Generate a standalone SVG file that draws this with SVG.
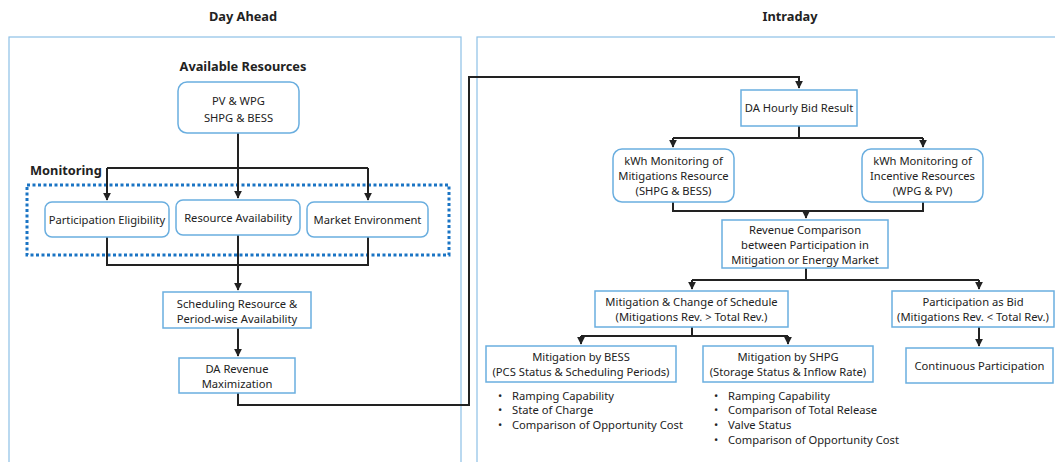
<svg xmlns="http://www.w3.org/2000/svg" width="1055" height="462" viewBox="0 0 1055 462">
<style>
text{font-family:"Noto Sans","Open Sans","DejaVu Sans",sans-serif;font-size:11.2px;fill:#222;text-anchor:middle}
.t{font-weight:bold;font-size:12.8px}
.b{text-anchor:start}
.panel{fill:none;stroke:#8dc0e6;stroke-width:1.2}
.box{fill:#fff;stroke:#6aaedf;stroke-width:1.5}
.c{fill:none;stroke:#222;stroke-width:2}
.dot{fill:none;stroke:#1a74c4;stroke-width:3;stroke-dasharray:3 2.5}
</style>
<defs>
<marker id="a" viewBox="0 0 10 10" refX="9" refY="5" markerWidth="4" markerHeight="4" orient="auto" markerUnits="strokeWidth">
<path d="M0,0L10,5L0,10z" fill="#222"/>
</marker>
</defs>
<rect width="1055" height="462" fill="#fff"/>
<g id="panels">
<rect class="panel" x="9" y="37" width="452" height="440"/>
<rect class="panel" x="477" y="37" width="590" height="440"/>
<text class="t" x="243" y="21">Day Ahead</text>
<text class="t" x="790" y="21">Intraday</text>
<text class="t" x="243" y="71">Available Resources</text>
<text class="t b" x="30" y="175">Monitoring</text>
<rect class="dot" x="27" y="185" width="422" height="70"/>
</g>
<g id="connectors">
<path class="c" d="M238,133V168"/>
<path class="c" d="M107,168H368"/>
<path class="c" d="M107,168V200" marker-end="url(#a)"/>
<path class="c" d="M238,168V198" marker-end="url(#a)"/>
<path class="c" d="M368,168V200" marker-end="url(#a)"/>
<path class="c" d="M107,237V265H368V237"/>
<path class="c" d="M238,235V290" marker-end="url(#a)"/>
<path class="c" d="M238,328V356" marker-end="url(#a)"/>
<path class="c" d="M238,393V405H469V77H799V88" marker-end="url(#a)"/>
<path class="c" d="M799,126V138"/>
<path class="c" d="M673,138H923"/>
<path class="c" d="M673,138V147" marker-end="url(#a)"/>
<path class="c" d="M923,138V147" marker-end="url(#a)"/>
<path class="c" d="M673,202V211H923V202"/>
<path class="c" d="M806,211V218" marker-end="url(#a)"/>
<path class="c" d="M806,268V280"/>
<path class="c" d="M692,280H979"/>
<path class="c" d="M692,280V289" marker-end="url(#a)"/>
<path class="c" d="M979,280V289" marker-end="url(#a)"/>
<path class="c" d="M692,327V336"/>
<path class="c" d="M581,336H788"/>
<path class="c" d="M581,336V344" marker-end="url(#a)"/>
<path class="c" d="M788,336V344" marker-end="url(#a)"/>
<path class="c" d="M979,327V346" marker-end="url(#a)"/>
</g>
<g id="n-resources">
<rect class="box" x="178" y="82" width="121" height="51" rx="9"/>
<text x="238.5" y="105">PV &amp; WPG</text>
<text x="238.5" y="122">SHPG &amp; BESS</text>
</g>
<g id="n-eligibility">
<rect class="box" x="45" y="202" width="124" height="35" rx="7"/>
<text x="107" y="224">Participation Eligibility</text>
</g>
<g id="n-availability">
<rect class="box" x="176" y="200" width="124" height="35" rx="7"/>
<text x="238" y="222">Resource Availability</text>
</g>
<g id="n-market">
<rect class="box" x="307" y="202" width="121" height="35" rx="7"/>
<text x="367.5" y="224">Market Environment</text>
</g>
<g id="n-scheduling">
<rect class="box" x="163" y="292" width="148" height="36"/>
<text x="237" y="308">Scheduling Resource &amp;</text>
<text x="237" y="323">Period-wise Availability</text>
</g>
<g id="n-darev">
<rect class="box" x="179" y="358" width="116" height="35"/>
<text x="237" y="373">DA Revenue</text>
<text x="237" y="388">Maximization</text>
</g>
<g id="n-dabid">
<rect class="box" x="741" y="90" width="116" height="36"/>
<text x="799" y="112">DA Hourly Bid Result</text>
</g>
<g id="n-kwh-mit">
<rect class="box" x="613" y="149" width="121" height="53" rx="9"/>
<text x="673.5" y="165">kWh Monitoring of</text>
<text x="673.5" y="180">Mitigations Resource</text>
<text x="673.5" y="195">(SHPG &amp; BESS)</text>
</g>
<g id="n-kwh-inc">
<rect class="box" x="862" y="149" width="121" height="53" rx="9"/>
<text x="922.5" y="165">kWh Monitoring of</text>
<text x="922.5" y="180">Incentive Resources</text>
<text x="922.5" y="195">(WPG &amp; PV)</text>
</g>
<g id="n-revcomp">
<rect class="box" x="722" y="220" width="166" height="48"/>
<text x="805" y="234">Revenue Comparison</text>
<text x="805" y="249">between Participation in</text>
<text x="805" y="264">Mitigation or Energy Market</text>
</g>
<g id="n-mitchange">
<rect class="box" x="595" y="291" width="193" height="36"/>
<text x="691.5" y="306">Mitigation &amp; Change of Schedule</text>
<text x="691.5" y="321">(Mitigations Rev. &gt; Total Rev.)</text>
</g>
<g id="n-bid">
<rect class="box" x="892" y="291" width="162" height="36"/>
<text x="973" y="306">Participation as Bid</text>
<text x="973" y="321">(Mitigations Rev. &lt; Total Rev.)</text>
</g>
<g id="n-bess">
<rect class="box" x="486" y="346" width="190" height="36"/>
<text x="581" y="361">Mitigation by BESS</text>
<text x="581" y="376">(PCS Status &amp; Scheduling Periods)</text>
<text class="b" x="498" y="400">•</text><text class="b" x="512" y="400">Ramping Capability</text>
<text class="b" x="498" y="414">•</text><text class="b" x="512" y="414">State of Charge</text>
<text class="b" x="498" y="429">•</text><text class="b" x="512" y="429">Comparison of Opportunity Cost</text>
</g>
<g id="n-shpg">
<rect class="box" x="703" y="346" width="170" height="36"/>
<text x="788" y="361">Mitigation by SHPG</text>
<text x="788" y="376">(Storage Status &amp; Inflow Rate)</text>
<text class="b" x="714" y="400">•</text><text class="b" x="728" y="400">Ramping Capability</text>
<text class="b" x="714" y="414">•</text><text class="b" x="728" y="414">Comparison of Total Release</text>
<text class="b" x="714" y="429">•</text><text class="b" x="728" y="429">Valve Status</text>
<text class="b" x="714" y="444">•</text><text class="b" x="728" y="444">Comparison of Opportunity Cost</text>
</g>
<g id="n-continuous">
<rect class="box" x="906" y="348" width="147" height="35"/>
<text x="979.5" y="370">Continuous Participation</text>
</g>
</svg>
